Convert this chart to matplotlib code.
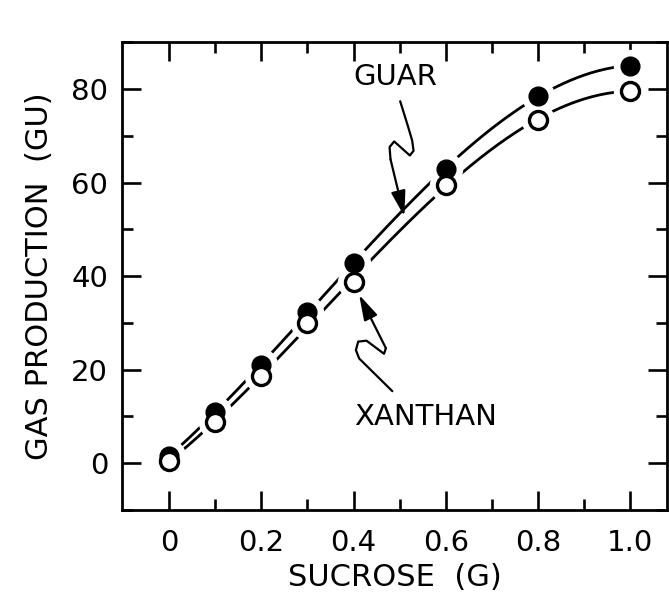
import numpy as np
import matplotlib.pyplot as plt
from matplotlib.ticker import MultipleLocator, FixedLocator

sucrose = [0.0, 0.1, 0.2, 0.3, 0.4, 0.6, 0.8, 1.0]
guar = [1.5, 10.9, 21.0, 32.3, 42.8, 63.0, 78.5, 85.0]
xanthan = [0.5, 8.8, 18.6, 30.0, 38.7, 59.5, 73.4, 79.6]

xticks = [0.0, 0.2, 0.4, 0.6, 0.8, 1.0]
xticklabels = ['0', '0.2', '0.4', '0.6', '0.8', '1.0']
yticks = [0, 20, 40, 60, 80]

plt.rcParams['font.family'] = ['DejaVu Sans']

fig = plt.figure(figsize=(6.69, 5.95), dpi=100)
ax = fig.add_axes([0.1824, 0.1429, 0.815, 0.786])

# smooth fitted curves through each series
xs = np.linspace(sucrose[0], sucrose[-1], 200)
for vals in (guar, xanthan):
    p = np.polyfit(sucrose, vals, 3)
    ax.plot(xs, np.polyval(p, xs), color='black', lw=2.0, zorder=2)

# white halos break the curves around the points
ax.plot(sucrose, guar, 'o', ms=23, color='white', zorder=3)
ax.plot(sucrose, xanthan, 'o', ms=23, color='white', zorder=3)
ax.plot(sucrose, guar, 'o', ms=13.5, mfc='black', mec='black', zorder=4)
ax.plot(sucrose, xanthan, 'o', ms=13, mfc='white', mec='black', mew=2.4, zorder=5)

# labels with squiggly arrows
ax.text(0.49, 82.6, 'GUAR', ha='center', va='center', fontsize=21)
gx = [0.501, 0.518, 0.527, 0.53, 0.522, 0.488, 0.478, 0.48]
gy = [77.4, 72.0, 69.0, 66.8, 65.8, 68.8, 67.6, 65.0]
ax.plot(gx, gy, color='black', lw=1.6, solid_capstyle='round',
        solid_joinstyle='round')
ax.annotate('', xy=(0.51, 52.8), xytext=(gx[-1], gy[-1]),
            arrowprops=dict(arrowstyle='-|>,head_length=0.7,head_width=0.2',
                            color='black', lw=1.6, mutation_scale=22,
                            shrinkA=0, shrinkB=0))

ax.text(0.555, 9.8, 'XANTHAN', ha='center', va='center', fontsize=21)
hx = [0.484, 0.412, 0.405, 0.41, 0.428, 0.466, 0.47]
hy = [15.4, 22.4, 24.2, 26.0, 26.2, 23.4, 24.6]
ax.plot(hx, hy, color='black', lw=1.6, solid_capstyle='round',
        solid_joinstyle='round')
ax.annotate('', xy=(0.412, 36.0), xytext=(hx[-1], hy[-1]),
            arrowprops=dict(arrowstyle='-|>,head_length=0.7,head_width=0.2',
                            color='black', lw=1.6, mutation_scale=22,
                            shrinkA=0, shrinkB=0))

ax.set_xlim(-0.102, 1.08)
ax.set_ylim(-10, 90)
ax.xaxis.set_major_locator(FixedLocator(xticks))
ax.set_xticklabels(xticklabels)
ax.xaxis.set_minor_locator(FixedLocator([0.1, 0.3, 0.5, 0.7, 0.9]))
ax.set_yticks(yticks)
ax.yaxis.set_minor_locator(MultipleLocator(10))

ax.tick_params(which='both', direction='in', top=True, right=True, width=1.9,
               labelsize=21)
ax.tick_params(axis='x', pad=14)
ax.tick_params(axis='y', pad=10)
ax.tick_params(which='major', length=14)
ax.tick_params(which='minor', length=8)
for s in ax.spines.values():
    s.set_linewidth(2.0)

ax.set_xlabel('SUCROSE  (G)', fontsize=22, labelpad=4)
ax.set_ylabel('GAS PRODUCTION  (GU)', fontsize=22, labelpad=12)

fig.savefig('out.png', dpi=100)
